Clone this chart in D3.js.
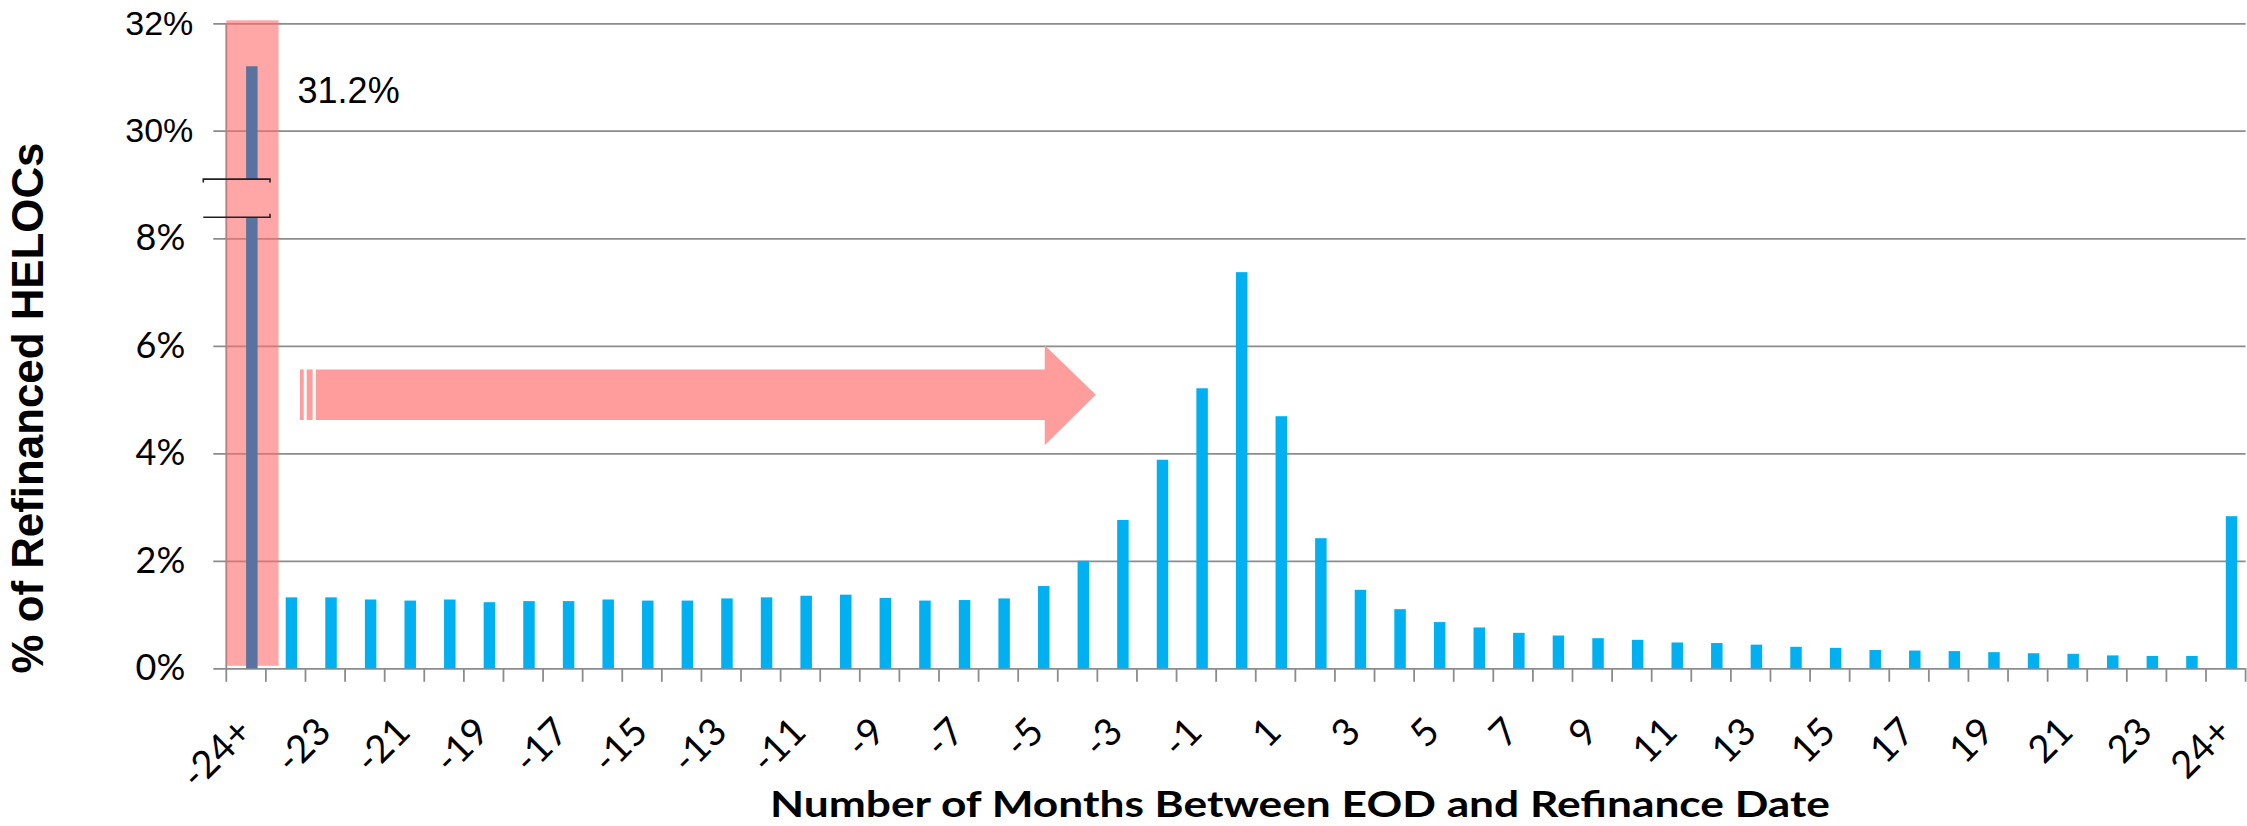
<!DOCTYPE html>
<html>
<head>
<meta charset="utf-8">
<title>Refinanced HELOCs by months between EOD and refinance</title>
<script src="https://d3js.org/d3.v7.min.js"></script>
<style>
  body { margin: 0; background: #fff; }
  svg { display: block; }
</style>
</head>
<body>
<script>
// months between end-of-draw and refinance date
var categories = ["-24+", "-24", "-23", "-22", "-21", "-20", "-19", "-18", "-17", "-16", "-15",
  "-14", "-13", "-12", "-11", "-10", "-9", "-8", "-7", "-6", "-5", "-4", "-3", "-2", "-1",
  "0", "1", "2", "3", "4", "5", "6", "7", "8", "9", "10", "11", "12", "13", "14", "15",
  "16", "17", "18", "19", "20", "21", "22", "23", "24", "24+"];

// % of refinanced HELOCs
var shares = [31.2, 1.32, 1.32, 1.28, 1.26, 1.28, 1.23, 1.25, 1.25, 1.28, 1.26,
  1.26, 1.30, 1.32, 1.35, 1.37, 1.31, 1.26, 1.27, 1.30, 1.53, 2.00, 2.76, 3.88, 5.21,
  7.37, 4.69, 2.42, 1.46, 1.10, 0.86, 0.76, 0.66, 0.61, 0.56, 0.53, 0.48, 0.47, 0.44, 0.40, 0.38,
  0.34, 0.33, 0.32, 0.30, 0.28, 0.27, 0.24, 0.23, 0.23, 2.83];

var yTickValues = [0, 2, 4, 6, 8, 30, 32];
var yTickLabels = ["0%", "2%", "4%", "6%", "8%", "30%", "32%"];
var breakLow = 12.3, breakHigh = 20.1;   // gap in the first bar (axis break)

var W = 2247, H = 826;
var plotL = 226.3, plotR = 2245.6, plotT = 23.3, plotB = 668.3;

var svg = d3.select("body").append("svg")
  .attr("width", W).attr("height", H);

var x = d3.scaleBand().domain(categories).range([plotL, plotR]).padding(0);
var bw = x.bandwidth();

// broken axis: 0-8 then 30-32, every gridline step has the same height
var y = d3.scaleLinear()
  .domain([0, 8, 30, 32])
  .range([plotB, 238.3, 130.7, plotT]);

var grey = "#8c8c8c";

// y axis with gridlines
var yAxis = d3.axisLeft(y)
  .tickValues(yTickValues)
  .tickSize(-(plotR - 213.3))
  .tickPadding(28)
  .tickFormat(function(d, i) { return yTickLabels[i]; });

var gy = svg.append("g")
  .attr("transform", "translate(213.3,0)")
  .call(yAxis);
gy.select(".domain").remove();
gy.selectAll(".tick line").attr("stroke", grey).attr("stroke-width", 1.8);
gy.selectAll(".tick text")
  .attr("fill", "#000")
  .style("font-family", function(d) { return d >= 30 ? "'Liberation Sans', Arial, sans-serif" : "Lato, 'Liberation Sans', sans-serif"; })
  .style("font-size", function(d) { return d >= 30 ? "34px" : "36px"; })
  .attr("dx", function(d) { return d >= 30 ? 8 : 0; });

// vertical axis line
svg.append("line")
  .attr("x1", plotL).attr("x2", plotL)
  .attr("y1", y(32)).attr("y2", y(0))
  .attr("stroke", grey).attr("stroke-width", 1.8);

// x tick marks on band boundaries
var boundaries = categories.map(function(c) { return x(c); }).concat([plotR]);
svg.append("g").selectAll("line")
  .data(boundaries)
  .enter().append("line")
  .attr("x1", function(d) { return d; }).attr("x2", function(d) { return d; })
  .attr("y1", y(0)).attr("y2", y(0) + 13.5)
  .attr("stroke", grey).attr("stroke-width", 1.8);

// pink highlight behind the first bar
svg.append("rect")
  .attr("x", x(categories[0]))
  .attr("y", y(32) - 3)
  .attr("width", bw * 1.32)
  .attr("height", y(0) - 2.5 - (y(32) - 3))
  .attr("fill", "#ff6b6b")
  .attr("opacity", 0.6);

var barX = function(c) { return x(c) + bw / 2; };
var barW = bw * 0.29;

var data = categories.map(function(c, i) { return { cat: c, value: shares[i], i: i }; });

svg.append("g").selectAll("rect")
  .data(data.slice(1))
  .enter().append("rect")
  .attr("x", function(d) { return barX(d.cat); })
  .attr("y", function(d) { return y(d.value); })
  .attr("width", barW)
  .attr("height", function(d) { return y(0) - y(d.value); })
  .attr("fill", "#00b0f0");

// first bar, drawn in two pieces around the break
var first = data[0];
var pieces = [[breakHigh, first.value], [0, breakLow]];
svg.append("g").selectAll("rect")
  .data(pieces)
  .enter().append("rect")
  .attr("x", barX(first.cat))
  .attr("y", function(d) { return y(d[1]); })
  .attr("width", barW)
  .attr("height", function(d) { return y(d[0]) - y(d[1]); })
  .attr("fill", "#5873a0");

// break marks
var bx0 = plotL - 23, bx1 = plotL + 43.7;
svg.append("path")
  .attr("d", "M" + bx0 + "," + (y(breakHigh) + 3.5) + "V" + y(breakHigh) + "H" + bx1 + "V" + (y(breakHigh) + 3.5))
  .attr("fill", "none").attr("stroke", "#222").attr("stroke-width", 1.6);
svg.append("path")
  .attr("d", "M" + bx0 + "," + y(breakLow) + "H" + bx1 + "V" + (y(breakLow) - 3.5))
  .attr("fill", "none").attr("stroke", "#222").attr("stroke-width", 1.6);

// value label for the first bar
svg.append("text")
  .attr("x", barX(first.cat) + barW + 40)
  .attr("y", y(first.value) + 37)
  .style("font-family", "'Liberation Sans', Arial, sans-serif")
  .style("font-size", "36px")
  .text(first.value.toFixed(1) + "%");

// big arrow pointing toward the end-of-draw date
var step = x.step();
var bx = function(k) { return plotL + k * step; };
var arrowColor = "#ff9d9d";
var bodyTop = y(5.56), bodyBot = y(4.62), headTop = y(6.01), headBot = y(4.15), tipY = y(5.09);
svg.append("rect").attr("x", bx(1.86)).attr("y", bodyTop)
  .attr("width", bx(1.955) - bx(1.86)).attr("height", bodyBot - bodyTop).attr("fill", arrowColor);
svg.append("rect").attr("x", bx(2.03)).attr("y", bodyTop)
  .attr("width", bx(2.18) - bx(2.03)).attr("height", bodyBot - bodyTop).attr("fill", arrowColor);
svg.append("path")
  .attr("d", "M" + bx(2.26) + "," + bodyTop +
    "H" + bx(20.67) + "V" + headTop +
    "L" + bx(21.96) + "," + tipY +
    "L" + bx(20.67) + "," + headBot +
    "V" + bodyBot + "H" + bx(2.26) + "Z")
  .attr("fill", arrowColor);

// x tick labels, every other category
svg.append("g").selectAll("text")
  .data(data.filter(function(d) { return d.i % 2 === 0; }))
  .enter().append("text")
  .attr("transform", function(d) { return "translate(" + (barX(d.cat) + barW / 2 + 2) + ",734) rotate(-45)"; })
  .attr("text-anchor", "end")
  .style("font-family", "Lato, 'Liberation Sans', sans-serif")
  .style("font-size", "38px")
  .text(function(d) { return d.cat; });

// axis titles
svg.append("text")
  .attr("x", 1300).attr("y", 817)
  .attr("text-anchor", "middle")
  .attr("textLength", 1060).attr("lengthAdjust", "spacingAndGlyphs")
  .style("font-family", "Lato, 'Liberation Sans', sans-serif")
  .style("font-weight", "bold")
  .style("font-size", "36px")
  .text("Number of Months Between EOD and Refinance Date");

svg.append("text")
  .attr("transform", "translate(43,408) rotate(-90)")
  .attr("text-anchor", "middle")
  .attr("textLength", 531).attr("lengthAdjust", "spacingAndGlyphs")
  .style("font-family", "'Liberation Sans', Arial, sans-serif")
  .style("font-weight", "bold")
  .style("font-size", "44px")
  .text("% of Refinanced HELOCs");
</script>
</body>
</html>
